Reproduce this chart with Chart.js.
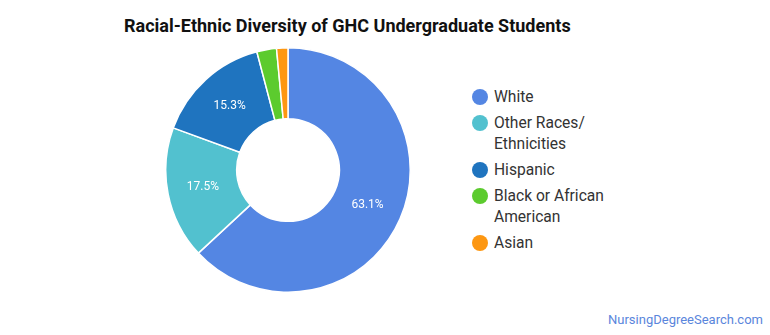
<!DOCTYPE html>
<html lang="en">
<head>
  <meta charset="UTF-8" />
  <title>Racial-Ethnic Diversity of GHC Undergraduate Students</title>
  <script src="https://cdn.jsdelivr.net/npm/chart.js"></script>
  <style>
    body { margin: 0; width: 770px; height: 335px; background: #fff; font-family: 'Roboto', sans-serif; position: relative; overflow: hidden; }
    #title { position: absolute; left: 124px; top: 15px; font-size: 18px; font-weight: bold; color: #111; white-space: nowrap; }
    #chartBox { position: absolute; left: 165px; top: 47px; width: 246px; height: 246px; }
    #legend { position: absolute; left: 472px; top: 87px; list-style: none; margin: 0; padding: 0; }
    #legend li { position: relative; padding-left: 22px; font-size: 15.6px; line-height: 21px; color: #333; margin-bottom: 5px; }
    #legend span.dot { position: absolute; left: 0; top: 2px; width: 16px; height: 16px; border-radius: 50%; }
    #source { position: absolute; right: 7px; top: 312px; font-size: 13px; color: #5a86dc; }
  </style>
</head>
<body>
  <div id="title">Racial-Ethnic Diversity of GHC Undergraduate Students</div>
  <div id="chartBox"><canvas id="donut"></canvas></div>
  <ul id="legend"></ul>
  <div id="source">NursingDegreeSearch.com</div>

  <script>
    const categories = ['White', 'Other Races/\nEthnicities', 'Hispanic', 'Black or African\nAmerican', 'Asian'];
    const shares = [63.1, 17.5, 15.3, 2.6, 1.5];
    const colors = ['#5486e3', '#52c1cf', '#1f74bf', '#5ccb2e', '#fd9712'];

    // percentage labels inside the bigger slices
    const sliceLabels = {
      id: 'sliceLabels',
      afterDatasetsDraw(chart) {
        const ctx = chart.ctx;
        const meta = chart.getDatasetMeta(0);
        ctx.save();
        ctx.fillStyle = '#fff';
        ctx.font = '12px Roboto';
        ctx.textAlign = 'center';
        ctx.textBaseline = 'middle';
        meta.data.forEach((arc, i) => {
          if (shares[i] < 5) return;
          const p = arc.tooltipPosition();
          ctx.fillText(shares[i].toFixed(1) + '%', p.x, p.y);
        });
        ctx.restore();
      }
    };

    new Chart(document.getElementById('donut'), {
      type: 'doughnut',
      data: {
        labels: categories,
        datasets: [{
          data: shares,
          backgroundColor: colors,
          borderColor: '#fff',
          borderWidth: 1.5
        }]
      },
      options: {
        responsive: true,
        maintainAspectRatio: false,
        animation: false,
        cutout: '42%',
        plugins: {
          legend: { display: false },
          tooltip: { enabled: false }
        }
      },
      plugins: [sliceLabels]
    });

    const legend = document.getElementById('legend');
    categories.forEach((name, i) => {
      const li = document.createElement('li');
      const dot = document.createElement('span');
      dot.className = 'dot';
      dot.style.background = colors[i];
      li.appendChild(dot);
      name.split('\n').forEach((line, j) => {
        if (j > 0) li.appendChild(document.createElement('br'));
        li.appendChild(document.createTextNode(line));
      });
      legend.appendChild(li);
    });
  </script>
</body>
</html>
